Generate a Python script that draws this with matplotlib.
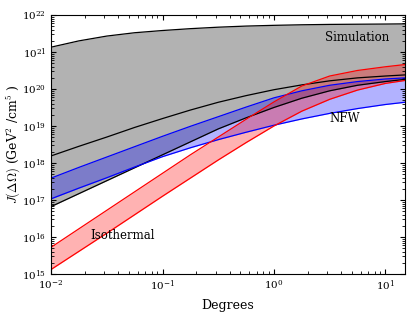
import numpy as np
import matplotlib
matplotlib.use('Agg')
import matplotlib.pyplot as plt
from matplotlib.ticker import NullFormatter

plt.rcParams['font.family'] = 'DejaVu Serif'
plt.rcParams['mathtext.fontset'] = 'cm'
plt.rcParams['xtick.direction'] = 'in'
plt.rcParams['ytick.direction'] = 'in'
plt.rcParams['xtick.top'] = True
plt.rcParams['ytick.right'] = True

# log10 of angle (degrees) where curves were read
logdeg = [-2.0, -1.75, -1.5, -1.25, -1.0, -0.75, -0.5, -0.25, 0.0, 0.25, 0.5, 0.75, 1.0, 1.176]

# log10 J values
sim_upper = [21.13, 21.30, 21.43, 21.52, 21.58, 21.63, 21.67, 21.70, 21.72, 21.735, 21.745, 21.75, 21.755, 21.76]
sim_mid = [18.19, 18.45, 18.70, 18.96, 19.20, 19.43, 19.64, 19.82, 19.98, 20.11, 20.22, 20.30, 20.35, 20.38]
sim_lower = [16.82, 17.17, 17.52, 17.87, 18.22, 18.57, 18.92, 19.22, 19.50, 19.75, 19.95, 20.10, 20.20, 20.26]
nfw_upper = [17.59, 17.88, 18.16, 18.44, 18.72, 18.99, 19.25, 19.51, 19.76, 19.95, 20.10, 20.20, 20.27, 20.30]
nfw_lower = [17.03, 17.32, 17.60, 17.89, 18.17, 18.41, 18.63, 18.83, 19.02, 19.19, 19.34, 19.47, 19.58, 19.64]
iso_upper = [15.72, 16.22, 16.72, 17.22, 17.72, 18.22, 18.70, 19.18, 19.65, 20.08, 20.35, 20.50, 20.60, 20.66]
iso_lower = [15.12, 15.61, 16.10, 16.60, 17.10, 17.59, 18.08, 18.55, 19.00, 19.40, 19.72, 19.97, 20.15, 20.23]

deg = 10**np.array(logdeg)

def band(lo, hi, fc, lc, mid=None):
    plt.fill_between(deg, 10**np.array(lo), 10**np.array(hi), color=fc, alpha=0.3, linewidth=0)
    plt.plot(deg, 10**np.array(lo), color=lc, lw=0.9)
    plt.plot(deg, 10**np.array(hi), color=lc, lw=0.9)
    if mid is not None:
        plt.plot(deg, 10**np.array(mid), color=lc, lw=0.9)

fig = plt.figure(figsize=(4.15, 3.12), dpi=100)
ax = fig.add_axes([0.123, 0.122, 0.853, 0.830])

band(sim_lower, sim_upper, 'k', 'k', sim_mid)
band(nfw_lower, nfw_upper, 'b', 'b')
band(iso_lower, iso_upper, 'r', 'r')

ax.set_xscale('log')
ax.set_yscale('log')
ax.set_xlim(1e-2, 15)
ax.set_ylim(1e15, 1e22)
ax.tick_params(labelsize=7.5)
ax.xaxis.set_minor_formatter(NullFormatter())
ax.yaxis.set_minor_formatter(NullFormatter())

ax.text(5.6, 2.5e21, 'Simulation', fontsize=8.5, ha='center', va='center')
ax.text(4.3, 1.6e19, 'NFW', fontsize=8.5, ha='center', va='center')
ax.text(0.044, 1.1e16, 'Isothermal', fontsize=8.5, ha='center', va='center')

ax.set_xlabel('Degrees', fontsize=9)
ax.set_ylabel(r'$J(\Delta\Omega)$ (GeV$^2$ /cm$^5$ )', fontsize=9)
ax.yaxis.set_label_coords(-0.078, 0.5)

fig.savefig('out.png', dpi=100)
